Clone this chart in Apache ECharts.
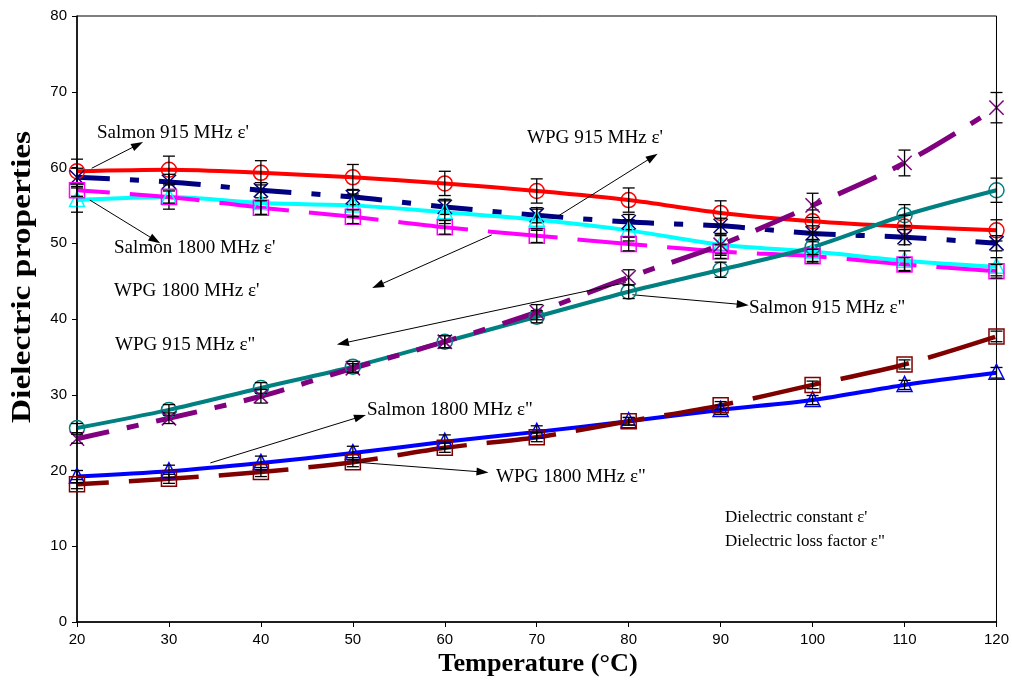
<!DOCTYPE html>
<html>
<head>
<meta charset="utf-8">
<script src="https://cdn.jsdelivr.net/npm/echarts@6.0.0/dist/echarts.min.js"></script>
<style>
  html, body { margin: 0; padding: 0; background: #fff; }
  #chart { width: 1012px; height: 684px; }
</style>
</head>
<body>
<div id="chart"></div>
<script>
// Temperatures (°C) at which the dielectric properties were measured
const temperatures = [20, 30, 40, 50, 60, 70, 80, 90, 100, 110, 120];

// Dielectric constant ε'
const salmon915Const  = [59.5, 59.7, 59.3, 58.7, 57.9, 56.9, 55.7, 54.0, 52.9, 52.2, 51.7];
const wpg915Const     = [58.7, 58.1, 57.0, 56.1, 54.8, 53.7, 52.8, 52.3, 51.3, 50.8, 50.0];
const salmon1800Const = [55.7, 56.1, 55.3, 55.0, 54.1, 53.1, 51.7, 49.8, 48.9, 47.7, 46.9];
const wpg1800Const    = [57.0, 56.1, 54.7, 53.5, 52.1, 51.0, 49.9, 48.9, 48.3, 47.2, 46.3];

// Dielectric loss factor ε"
const salmon915Loss   = [25.6, 28.0, 30.9, 33.7, 37.0, 40.3, 43.6, 46.5, 49.5, 53.7, 57.0];
const wpg915Loss      = [24.2, 26.9, 29.8, 33.5, 37.0, 40.9, 45.5, 49.8, 55.0, 60.6, 67.9];
const salmon1800Loss  = [19.2, 19.9, 21.0, 22.3, 23.8, 25.1, 26.5, 28.0, 29.3, 31.3, 32.9];
const wpg1800Loss     = [18.2, 18.9, 19.8, 21.1, 23.0, 24.4, 26.5, 28.6, 31.3, 34.0, 37.7];

// Standard deviations (error bar half-lengths)
const errSalmon915Const  = [1.6, 1.8, 1.6, 1.7, 1.6, 1.6, 1.6, 1.6, 1.5, 1.5, 1.4];
const errWpg915Const     = [1.2, 1.0, 1.0, 1.0, 1.0, 1.0, 1.0, 1.0, 1.0, 1.0, 1.0];
const errSalmon1800Const = [1.6, 1.6, 1.5, 1.5, 1.5, 1.4, 1.4, 1.4, 1.3, 1.3, 1.2];
const errWpg1800Const    = [0.8, 0.8, 0.9, 0.9, 0.9, 0.9, 0.9, 0.9, 0.9, 0.9, 0.9];
const errSalmon915Loss   = [0.6, 0.7, 0.7, 0.7, 0.8, 0.8, 0.9, 1.0, 1.0, 1.4, 1.6];
const errWpg915Loss      = [0.6, 0.7, 0.9, 0.6, 0.8, 1.0, 1.0, 1.2, 1.6, 1.7, 2.0];
const errSalmon1800Loss  = [0.8, 0.8, 0.9, 0.9, 0.9, 0.8, 0.5, 0.6, 0.6, 0.6, 0.7];
const errWpg1800Loss     = [0.6, 0.6, 0.6, 0.6, 0.6, 0.6, 0.5, 0.5, 0.5, 0.6, 0.7];

// Axis ranges and tick steps
const xRange = [20, 120, 10];
const yRange = [0, 80, 10];

// Pointer arrows from series to their captions, [start, end] in data units
const arrows = [
  [[21.6, 59.9], [26.6, 63.0]],
  [[21.4, 55.7], [28.5, 50.4]],
  [[65.1, 51.1], [52.7, 44.4]],
  [[72.2, 53.5], [82.6, 61.4]],
  [[79.7, 44.8], [48.9, 36.8]],
  [[80.4, 43.2], [92.4, 41.9]],
  [[34.5, 21.0], [50.8, 27.1]],
  [[50.3, 21.1], [64.1, 19.8]]
];

const serif = '"Liberation Serif", "Times New Roman", serif';
const sans = '"Liberation Sans", Arial, sans-serif';

const seriesDefs = [
  { name: "Salmon 915 MHz ε'",  data: salmon915Const,  err: errSalmon915Const,  color: '#FF0000', marker: 'circle',   width: 4,   dash: 'solid' },
  { name: "WPG 915 MHz ε'",     data: wpg915Const,     err: errWpg915Const,     color: '#000080', marker: 'asterisk', width: 5,   dash: [42, 20, 9, 20], offset: 9 },
  { name: "Salmon 1800 MHz ε'", data: salmon1800Const, err: errSalmon1800Const, color: '#00FFFF', marker: 'triangle', width: 4,   dash: 'solid' },
  { name: "WPG 1800 MHz ε'",    data: wpg1800Const,    err: errWpg1800Const,    color: '#FF00FF', marker: 'square',   width: 4,   dash: [70, 20], offset: 37 },
  { name: 'Salmon 915 MHz ε"',  data: salmon915Loss,   err: errSalmon915Loss,   color: '#008080', marker: 'circle',   width: 4,   dash: 'solid' },
  { name: 'WPG 915 MHz ε"',     data: wpg915Loss,      err: errWpg915Loss,      color: '#800080', marker: 'cross',    width: 5,   dash: [42, 18, 12, 18], offset: 9 },
  { name: 'Salmon 1800 MHz ε"', data: salmon1800Loss,  err: errSalmon1800Loss,  color: '#0000FF', marker: 'triangle', width: 4,   dash: 'solid' },
  { name: 'WPG 1800 MHz ε"',    data: wpg1800Loss,     err: errWpg1800Loss,     color: '#800000', marker: 'square',   width: 4.5, dash: [70, 20], offset: 38 }
];

// Open marker shapes drawn around a pixel centre
function markerShape(kind, c, color) {
  const r = 7.5;
  const st = { stroke: color, fill: 'none', lineWidth: 1.5 };
  const ln = (x1, y1, x2, y2) => ({ type: 'line', shape: { x1, y1, x2, y2 }, style: st });
  if (kind === 'circle') {
    return [{ type: 'circle', shape: { cx: c[0], cy: c[1], r: r }, style: st }];
  }
  if (kind === 'square') {
    return [{ type: 'rect', shape: { x: c[0] - r, y: c[1] - r, width: 2 * r, height: 2 * r }, style: st }];
  }
  if (kind === 'triangle') {
    return [{ type: 'polygon', shape: { points: [[c[0], c[1] - r - 1], [c[0] + r, c[1] + r - 1], [c[0] - r, c[1] + r - 1]] }, style: st }];
  }
  const d = r * 0.95;
  const parts = [ln(c[0] - d, c[1] - d, c[0] + d, c[1] + d), ln(c[0] - d, c[1] + d, c[0] + d, c[1] - d)];
  if (kind === 'asterisk') parts.push(ln(c[0], c[1] - r - 1, c[0], c[1] + r + 1));
  return parts;
}

// Marker + error bar overlay for one series
function markerSeries(def) {
  return {
    type: 'custom',
    name: def.name + ' markers',
    z: 5,
    silent: true,
    animation: false,
    data: temperatures.map((t, i) => [t, def.data[i], def.err[i]]),
    encode: { x: 0, y: 1 },
    renderItem: function (params, api) {
      const x = api.value(0), y = api.value(1), e = api.value(2);
      const c = api.coord([x, y]);
      const top = api.coord([x, y + e])[1];
      const bot = api.coord([x, y - e])[1];
      const cap = 6;
      const bs = { stroke: '#000', lineWidth: 1.3 };
      const children = markerShape(def.marker, c, def.color).concat([
        { type: 'line', shape: { x1: c[0], y1: top, x2: c[0], y2: bot }, style: bs },
        { type: 'line', shape: { x1: c[0] - cap, y1: top, x2: c[0] + cap, y2: top }, style: bs },
        { type: 'line', shape: { x1: c[0] - cap, y1: bot, x2: c[0] + cap, y2: bot }, style: bs }
      ]);
      return { type: 'group', children: children };
    }
  };
}

function lineSeries(def) {
  return {
    type: 'line',
    name: def.name,
    z: 3,
    silent: true,
    animation: false,
    smooth: 0.3,
    symbol: 'none',
    data: temperatures.map((t, i) => [t, def.data[i]]),
    lineStyle: { color: def.color, width: def.width, type: def.dash, dashOffset: def.offset || 0, cap: 'butt' }
  };
}

const series = [];
seriesDefs.forEach(d => series.push(lineSeries(d)));
seriesDefs.forEach(d => series.push(markerSeries(d)));

// Arrow overlay
series.push({
  type: 'line',
  name: 'arrows',
  data: [],
  silent: true,
  animation: false,
  markLine: {
    silent: true,
    animation: false,
    symbol: ['none', 'triangle'],
    symbolSize: [8, 12],
    label: { show: false },
    emphasis: { disabled: true },
    lineStyle: { color: '#000', width: 1, type: 'solid' },
    data: arrows.map(a => [{ coord: a[0] }, { coord: a[1] }])
  }
});

// Series captions: [text, x, y]
const captions = [
  ["Salmon 915 MHz ε'", 97, 133],
  ["Salmon 1800 MHz ε'", 114, 248],
  ["WPG 1800 MHz ε'", 114, 291],
  ["WPG 915 MHz ε'", 527, 138],
  ['WPG 915 MHz ε"', 115, 345],
  ['Salmon 915 MHz ε"', 749, 308],
  ['Salmon 1800 MHz ε"', 367, 410],
  ['WPG 1800 MHz ε"', 496, 477]
];
// Key to the symbols ε' and ε"
const keyLines = [
  ["Dielectric constant ε'", 725, 518],
  ['Dielectric loss factor ε"', 725, 542]
];

const graphic = captions.map(c => ({
  type: 'text',
  x: c[1],
  y: c[2],
  scaleX: 1.06,
  silent: true,
  style: { text: c[0], font: '18px ' + serif, fill: '#000', align: 'left', verticalAlign: 'middle' }
})).concat(keyLines.map(c => ({
  type: 'text',
  x: c[1],
  y: c[2],
  silent: true,
  style: { text: c[0], font: '17px ' + serif, fill: '#000', align: 'left', verticalAlign: 'middle' }
})));

graphic.push({
  type: 'text', x: 538, y: 665, scaleX: 1.05, silent: true,
  style: { text: 'Temperature (°C)', font: 'bold 25px ' + serif, fill: '#000', align: 'center', verticalAlign: 'middle' }
});
graphic.push({
  type: 'text', x: 23, y: 277, rotation: Math.PI / 2, scaleX: 1.24, silent: true,
  style: { text: 'Dielectric properties', font: 'bold 27px ' + serif, fill: '#000', align: 'center', verticalAlign: 'middle' }
});

const chart = echarts.init(document.getElementById('chart'), null, { renderer: 'canvas' });
chart.setOption({
  backgroundColor: '#fff',
  animation: false,
  grid: { left: 77, top: 16, right: 15, bottom: 62, show: true, borderColor: '#000', borderWidth: 1, backgroundColor: 'transparent' },
  xAxis: {
    type: 'value', min: xRange[0], max: xRange[1], interval: xRange[2],
    axisLine: { show: true, lineStyle: { color: '#000', width: 1.5 } },
    axisTick: { show: true, inside: false, length: 5, lineStyle: { color: '#000', width: 1 } },
    axisLabel: { color: '#000', fontFamily: sans, fontSize: 15, margin: 10 },
    splitLine: { show: false }
  },
  yAxis: {
    type: 'value', min: yRange[0], max: yRange[1], interval: yRange[2],
    axisLine: { show: true, lineStyle: { color: '#000', width: 1.5 } },
    axisTick: { show: true, inside: false, length: 5, lineStyle: { color: '#000', width: 1 } },
    axisLabel: { color: '#000', fontFamily: sans, fontSize: 15, margin: 10 },
    splitLine: { show: false }
  },
  graphic: graphic,
  series: series
});
</script>
</body>
</html>
